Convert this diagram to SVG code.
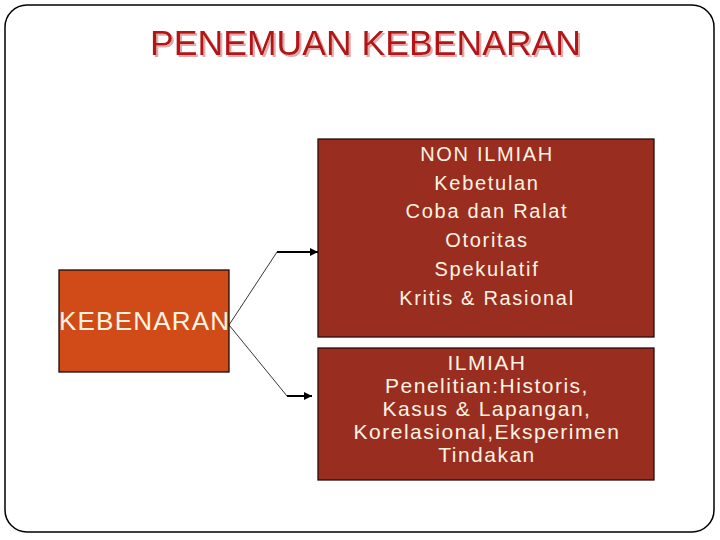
<svg xmlns="http://www.w3.org/2000/svg" width="720" height="540" viewBox="0 0 720 540">
  <defs>
    <marker id="arr" viewBox="0 0 10 10" refX="10" refY="5" markerWidth="4" markerHeight="4" markerUnits="strokeWidth" orient="auto">
      <path d="M0,0 L10,5 L0,10 z" fill="#000"/>
    </marker>
    <filter id="shadow" x="-5%" y="-20%" width="110%" height="150%">
      <feDropShadow dx="2" dy="2" stdDeviation="0.6" flood-color="#E0A0A0" flood-opacity="0.9"/>
    </filter>
  </defs>
  <style>
    .box-l { fill: #D04B17; stroke: #1a0a05; stroke-width: 1.3; }
    .box-r { fill: #992D1F; stroke: #2a0c08; stroke-width: 1.3; }
    .t { font-family: "Liberation Sans", Arial, sans-serif; fill: #FFF4E2; text-anchor: middle; }
    .thin { fill: none; stroke: #000; stroke-width: 0.8; }
    .thick { fill: none; stroke: #000; stroke-width: 2; }
  </style>
  <rect x="5" y="5" width="709" height="527" rx="22" ry="22" fill="#fff" stroke="#000" stroke-width="1.5"/>
  <g id="title">
    <text x="365.5" y="55" font-family="Liberation Sans, Arial, sans-serif" font-size="35" fill="#B01218" text-anchor="middle" textLength="431" lengthAdjust="spacingAndGlyphs" filter="url(#shadow)">PENEMUAN KEBENARAN</text>
  </g>
  <g id="connectors">
    <polyline class="thin" points="229,325 277,252"/>
    <line class="thick" x1="277" y1="252" x2="318" y2="252" marker-end="url(#arr)"/>
    <polyline class="thin" points="229,325 287,396"/>
    <line class="thick" x1="287" y1="396" x2="312" y2="396" marker-end="url(#arr)"/>
  </g>
  <g id="kebenaran">
    <rect class="box-l" x="59" y="270" width="170" height="102"/>
    <text class="t" x="144" y="330" font-size="26" textLength="170" lengthAdjust="spacing">KEBENARAN</text>
  </g>
  <g id="non-ilmiah">
    <rect class="box-r" x="318" y="139" width="336" height="198"/>
    <g class="t" font-size="20" letter-spacing="1.7">
      <text x="487" y="161">NON ILMIAH</text>
      <text x="487" y="190">Kebetulan</text>
      <text x="487" y="218">Coba dan Ralat</text>
      <text x="487" y="247">Otoritas</text>
      <text x="487" y="276">Spekulatif</text>
      <text x="487" y="305">Kritis &amp; Rasional</text>
    </g>
  </g>
  <g id="ilmiah">
    <rect class="box-r" x="318" y="348" width="336" height="132"/>
    <g class="t" font-size="21" letter-spacing="1.5">
      <text x="487" y="370">ILMIAH</text>
      <text x="487" y="393">Penelitian:Historis,</text>
      <text x="487" y="416">Kasus &amp; Lapangan,</text>
      <text x="487" y="439">Korelasional,Eksperimen</text>
      <text x="487" y="462">Tindakan</text>
    </g>
  </g>
</svg>
